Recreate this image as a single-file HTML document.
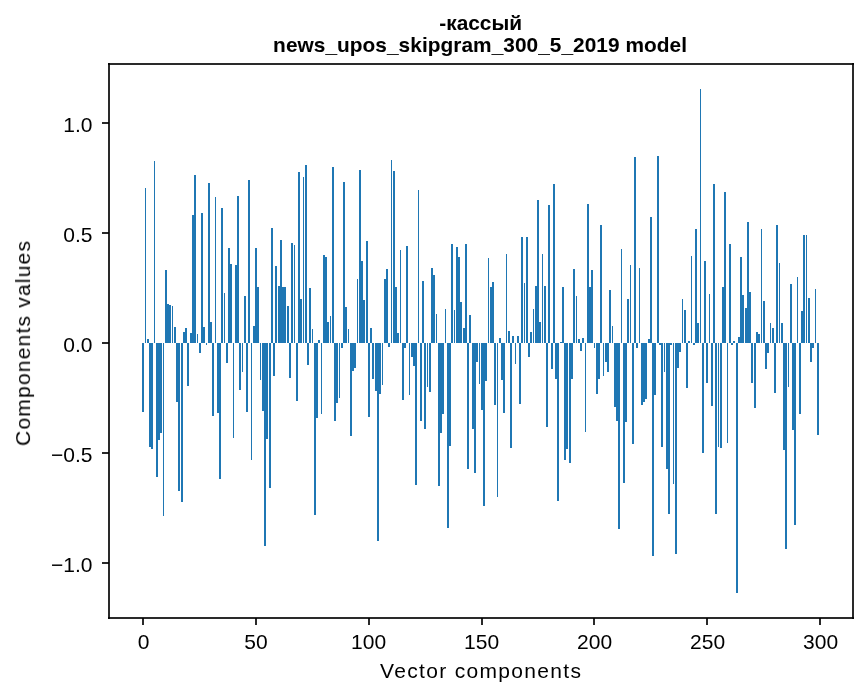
<!DOCTYPE html>
<html><head><meta charset="utf-8"><title>chart</title>
<style>
html,body{margin:0;padding:0;background:#fff;}
svg{display:block;will-change:transform}
g.tx{filter:grayscale(1)}
text{font-family:"Liberation Sans",sans-serif;fill:#000}
</style></head><body>
<svg width="867" height="696" viewBox="0 0 867 696">
<rect width="867" height="696" fill="#fff"/>
<path fill="#1f77b4" shape-rendering="crispEdges" d="M142 343h2v69h-2zM145 188h1v155h-1zM147 339h2v4h-2zM149 343h2v104h-2zM151 343h2v106h-2zM154 161h1v182h-1zM156 343h2v134h-2zM158 343h2v97h-2zM160 343h2v90h-2zM163 343h1v173h-1zM165 270h2v73h-2zM167 304h2v39h-2zM169 305h2v38h-2zM172 306h1v37h-1zM174 327h2v16h-2zM176 343h2v59h-2zM178 343h2v148h-2zM181 343h2v159h-2zM183 332h2v11h-2zM185 328h2v15h-2zM187 343h2v43h-2zM190 333h2v10h-2zM192 215h2v128h-2zM194 175h2v168h-2zM197 334h1v9h-1zM199 343h2v10h-2zM201 213h2v130h-2zM203 327h2v16h-2zM206 343h1v2h-1zM208 183h2v160h-2zM210 322h2v21h-2zM212 343h2v73h-2zM215 197h1v146h-1zM217 343h2v70h-2zM219 343h2v136h-2zM221 208h2v135h-2zM224 293h1v50h-1zM226 343h2v20h-2zM228 248h2v95h-2zM230 264h2v79h-2zM233 343h1v95h-1zM235 265h2v78h-2zM237 196h2v147h-2zM239 343h2v47h-2zM242 343h1v29h-1zM244 296h2v47h-2zM246 343h2v69h-2zM248 180h2v163h-2zM251 343h1v117h-1zM253 326h2v17h-2zM255 248h2v95h-2zM257 287h2v56h-2zM260 343h1v37h-1zM262 343h2v68h-2zM264 343h2v203h-2zM266 343h2v96h-2zM269 343h2v145h-2zM271 228h2v115h-2zM273 343h2v33h-2zM275 266h2v77h-2zM278 286h2v57h-2zM280 240h2v103h-2zM282 287h2v56h-2zM284 287h2v56h-2zM287 306h2v37h-2zM289 343h2v35h-2zM291 243h2v100h-2zM294 245h1v98h-1zM296 343h2v58h-2zM298 172h2v171h-2zM300 299h2v44h-2zM303 177h1v166h-1zM305 165h2v178h-2zM307 343h2v22h-2zM309 288h2v55h-2zM312 329h1v14h-1zM314 343h2v172h-2zM316 343h2v75h-2zM318 340h2v3h-2zM321 343h1v71h-1zM323 255h2v88h-2zM325 257h2v86h-2zM327 322h2v21h-2zM330 316h1v27h-1zM332 167h2v176h-2zM334 343h2v78h-2zM336 343h2v60h-2zM339 343h1v55h-1zM341 343h2v5h-2zM343 182h2v161h-2zM345 307h2v36h-2zM348 329h1v14h-1zM350 343h2v93h-2zM352 343h2v28h-2zM354 343h2v25h-2zM357 279h1v64h-1zM359 170h2v173h-2zM361 261h2v82h-2zM363 300h2v43h-2zM366 241h2v102h-2zM368 343h2v74h-2zM370 328h2v15h-2zM372 343h2v36h-2zM375 343h2v48h-2zM377 343h2v198h-2zM379 343h2v51h-2zM382 343h1v42h-1zM384 279h2v64h-2zM386 269h2v74h-2zM388 343h2v4h-2zM391 160h1v183h-1zM393 171h2v172h-2zM395 287h2v56h-2zM397 333h2v10h-2zM400 250h1v93h-1zM402 343h2v57h-2zM404 343h2v5h-2zM406 246h2v97h-2zM409 343h1v52h-1zM411 343h2v14h-2zM413 343h2v23h-2zM415 343h2v142h-2zM418 190h1v153h-1zM420 343h2v78h-2zM422 281h2v62h-2zM424 343h2v86h-2zM427 343h1v44h-1zM429 343h2v49h-2zM431 268h2v75h-2zM433 275h2v68h-2zM436 314h1v29h-1zM438 343h2v143h-2zM440 343h2v90h-2zM442 343h2v71h-2zM445 309h1v34h-1zM447 343h2v185h-2zM449 343h2v103h-2zM451 244h2v99h-2zM454 310h1v33h-1zM456 247h2v96h-2zM458 257h2v86h-2zM460 302h2v41h-2zM463 328h2v15h-2zM465 244h2v99h-2zM467 343h2v126h-2zM469 315h2v28h-2zM472 343h2v86h-2zM474 343h2v130h-2zM476 343h2v19h-2zM479 343h1v41h-1zM481 343h2v67h-2zM483 343h2v163h-2zM485 343h2v38h-2zM488 258h1v85h-1zM490 287h2v56h-2zM492 282h2v61h-2zM494 343h2v62h-2zM497 343h1v154h-1zM499 338h2v5h-2zM501 343h2v37h-2zM503 343h2v70h-2zM506 254h1v89h-1zM508 331h2v12h-2zM510 343h2v105h-2zM512 336h2v7h-2zM515 343h1v21h-1zM517 336h2v7h-2zM519 343h2v61h-2zM521 237h2v106h-2zM524 283h1v60h-1zM526 237h2v106h-2zM528 343h2v14h-2zM530 332h2v11h-2zM533 309h1v34h-1zM535 286h2v57h-2zM537 200h2v143h-2zM539 322h2v21h-2zM542 254h1v89h-1zM544 286h2v57h-2zM546 343h2v84h-2zM548 205h2v138h-2zM551 343h2v26h-2zM553 184h2v159h-2zM555 343h2v36h-2zM557 343h2v158h-2zM560 342h2v1h-2zM562 287h2v56h-2zM564 343h2v117h-2zM566 343h2v106h-2zM569 343h2v120h-2zM571 343h2v36h-2zM573 269h2v74h-2zM576 296h1v47h-1zM578 339h2v4h-2zM580 343h2v8h-2zM582 338h2v5h-2zM585 343h1v89h-1zM587 204h2v139h-2zM589 287h2v56h-2zM591 270h2v73h-2zM594 343h1v5h-1zM596 343h2v51h-2zM598 343h2v36h-2zM600 225h2v118h-2zM603 343h1v33h-1zM605 343h2v19h-2zM607 343h2v29h-2zM609 290h2v53h-2zM612 326h1v17h-1zM614 343h2v64h-2zM616 343h2v78h-2zM618 343h2v186h-2zM621 249h1v94h-1zM623 343h2v140h-2zM625 343h2v79h-2zM627 299h2v44h-2zM630 265h1v78h-1zM632 343h2v101h-2zM634 157h2v186h-2zM636 343h2v5h-2zM639 268h1v75h-1zM641 343h2v62h-2zM643 343h2v59h-2zM645 343h2v56h-2zM648 339h2v4h-2zM650 217h2v126h-2zM652 343h2v213h-2zM654 343h2v52h-2zM657 156h2v187h-2zM659 343h2v2h-2zM661 343h2v104h-2zM664 343h1v29h-1zM666 343h2v126h-2zM668 343h2v171h-2zM670 343h2v2h-2zM673 343h1v141h-1zM675 343h2v211h-2zM677 343h2v25h-2zM679 343h2v9h-2zM682 299h1v44h-1zM684 310h2v33h-2zM686 343h2v45h-2zM688 341h2v2h-2zM691 256h1v87h-1zM693 343h2v2h-2zM695 229h2v114h-2zM697 323h2v20h-2zM700 89h1v254h-1zM702 343h2v110h-2zM704 261h2v82h-2zM706 343h2v40h-2zM709 294h1v49h-1zM711 343h2v63h-2zM713 184h2v159h-2zM715 343h2v171h-2zM718 343h1v104h-1zM720 343h2v105h-2zM722 287h2v56h-2zM724 192h2v151h-2zM727 343h1v100h-1zM729 244h2v99h-2zM731 343h2v2h-2zM733 341h2v2h-2zM736 343h2v250h-2zM738 337h2v6h-2zM740 257h2v86h-2zM742 295h2v48h-2zM745 308h2v35h-2zM747 222h2v121h-2zM749 292h2v51h-2zM751 343h2v40h-2zM754 343h2v65h-2zM756 332h2v11h-2zM758 334h2v9h-2zM761 229h1v114h-1zM763 301h2v42h-2zM765 343h2v26h-2zM767 343h2v10h-2zM770 323h1v20h-1zM772 328h2v15h-2zM774 343h2v50h-2zM776 225h2v118h-2zM779 263h1v80h-1zM781 323h2v20h-2zM783 343h2v107h-2zM785 343h2v206h-2zM788 343h1v44h-1zM790 284h2v59h-2zM792 343h2v87h-2zM794 343h2v182h-2zM797 277h1v66h-1zM799 343h2v71h-2zM801 311h2v32h-2zM803 235h2v108h-2zM806 235h1v108h-1zM808 298h2v45h-2zM810 343h2v19h-2zM812 343h2v5h-2zM815 289h1v54h-1zM817 343h2v92h-2z"/>
<g fill="#000" fill-opacity="0.8353" shape-rendering="crispEdges"><path d="M108 63h746v2h-746z"/><path d="M108 617h746v2h-746z"/><path d="M108 63h2v556h-2z"/><path d="M852 63h2v556h-2z"/><path d="M142 618h2v7h-2z"/><path d="M255 618h2v7h-2z"/><path d="M368 618h2v7h-2z"/><path d="M481 618h2v7h-2z"/><path d="M593 618h2v7h-2z"/><path d="M706 618h2v7h-2z"/><path d="M819 618h2v7h-2z"/><path d="M102 122h7v2h-7z"/><path d="M102 232h7v2h-7z"/><path d="M102 342h7v2h-7z"/><path d="M102 452h7v2h-7z"/><path d="M102 562h7v2h-7z"/></g>
<g class="tx"><text id="xt0" x="143.600" y="649.000" text-anchor="middle" font-size="21">0</text><text id="xt50" x="255.900" y="649.000" text-anchor="middle" font-size="21">50</text><text id="xt100" x="368.600" y="649.000" text-anchor="middle" font-size="21">100</text><text id="xt150" x="481.600" y="649.000" text-anchor="middle" font-size="21">150</text><text id="xt200" x="594.600" y="649.000" text-anchor="middle" font-size="21">200</text><text id="xt250" x="707.600" y="649.000" text-anchor="middle" font-size="21">250</text><text id="xt300" x="820.600" y="649.000" text-anchor="middle" font-size="21">300</text><text id="yt123" x="92.500" y="132.000" text-anchor="end" font-size="21">1.0</text><text id="yt233" x="92.500" y="242.000" text-anchor="end" font-size="21">0.5</text><text id="yt343" x="92.500" y="352.000" text-anchor="end" font-size="21">0.0</text><text id="yt453" x="92.500" y="462.000" text-anchor="end" font-size="21">−0.5</text><text id="yt563" x="92.500" y="572.000" text-anchor="end" font-size="21">−1.0</text><text id="xl" x="480.500" y="678.000" textLength="201" text-anchor="middle" font-size="21">Vector components</text><text id="yl" transform="translate(30.050,343.500) rotate(-90)" textLength="205" text-anchor="middle" font-size="21">Components values</text><text x="480.650" y="30.000" textLength="82.700" text-anchor="middle" font-size="20.8333" font-weight="bold" stroke="#000" stroke-width="0.039" id="t1">-кассый</text><text x="480.050" y="52.000" textLength="413.870" text-anchor="middle" font-size="20.8333" font-weight="bold" stroke="#000" stroke-width="0.044" id="t2">news_upos_skipgram_300_5_2019 model</text></g>
</svg>
</body></html>
